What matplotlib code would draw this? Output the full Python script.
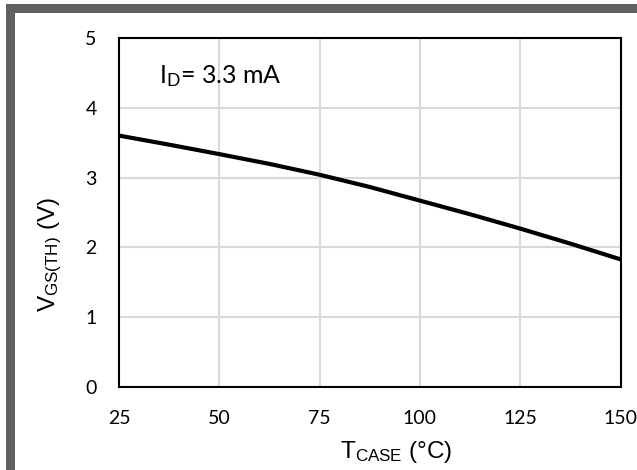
import matplotlib
matplotlib.use('Agg')
import matplotlib.pyplot as plt
from matplotlib.patches import Rectangle

# Threshold voltage vs case temperature
temp_c = [25, 37.5, 50, 62.5, 75, 87.5, 100, 112.5, 125, 137.5, 150]
vgs_th = [3.60, 3.47, 3.335, 3.195, 3.04, 2.865, 2.67, 2.475, 2.27, 2.055, 1.83]

x_ticks = [25, 50, 75, 100, 125, 150]
y_ticks = [0, 1, 2, 3, 4, 5]

W, H = 637, 470
fig = plt.figure(figsize=(W / 100, H / 100), dpi=100)
fig.patch.set_facecolor('white')

# gray frame left and top (page border in the datasheet)
frame = '#606060'
fig.patches.append(Rectangle((6 / W, 0), 9 / W, 1 - 4 / H, transform=fig.transFigure,
                             facecolor=frame, edgecolor='none'))
fig.patches.append(Rectangle((6 / W, 1 - 13 / H), 1, 9 / H, transform=fig.transFigure,
                             facecolor=frame, edgecolor='none'))

ax = fig.add_axes([119 / W, 1 - 387.3 / H, 501.5 / W, 349.6 / H])
ax.plot(temp_c, vgs_th, color='black', linewidth=3, solid_capstyle='butt', zorder=3)

ax.set_xlim(25, 150)
ax.set_ylim(0, 5)
ax.set_xticks(x_ticks)
ax.set_yticks(y_ticks)
ax.grid(True, color='#d9d9d9', linewidth=1.5)
ax.set_axisbelow(True)
for s in ax.spines.values():
    s.set_color('black')
    s.set_linewidth(1.5)

tick_font = ['Lato', 'DejaVu Sans']
ax.tick_params(axis='both', length=0, labelsize=14)
ax.tick_params(axis='x', pad=16)
ax.tick_params(axis='y', pad=16)
for lab in ax.get_xticklabels() + ax.get_yticklabels():
    lab.set_family(tick_font)

ax.text(35, 4.35, r'$\mathregular{I_D}$= 3.3 mA', fontsize=18, family=tick_font,
        va='baseline', ha='left')

label_font = ['Liberation Sans', 'DejaVu Sans']
fig.text(50 / W, 1 - 255 / H, r'$\mathregular{V_{GS(TH)}}$ (V)', rotation=90,
         fontsize=17.5, family=label_font, ha='center', va='center')
fig.text(396 / W, 1 - 452 / H, r'$\mathregular{T_{CASE}}$ ($\mathregular{\degree}$C)',
         fontsize=17.5, family=label_font, ha='center', va='center')

plt.savefig('out.png', dpi=100)
